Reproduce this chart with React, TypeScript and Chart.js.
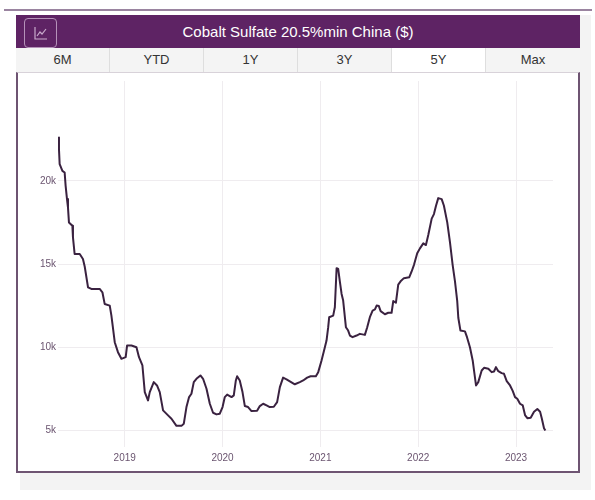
import React, { useEffect, useRef } from "react";
import { Chart, registerables } from "chart.js";

Chart.register(...registerables);

const TITLE = "Cobalt Sulfate 20.5%min China ($)";
const TABS = ["6M", "YTD", "1Y", "3Y", "5Y", "Max"];
const ACTIVE_TAB = "5Y";

// decimal years
const times = [
  2018.318, 2018.328, 2018.335, 2018.363, 2018.386, 2018.396, 2018.41, 2018.42, 2018.43, 2018.465,
  2018.471, 2018.488, 2018.54, 2018.573, 2018.591, 2018.625, 2018.659, 2018.744, 2018.772, 2018.795,
  2018.847, 2018.864, 2018.898, 2018.931, 2018.966, 2019.01, 2019.024, 2019.069, 2019.12, 2019.146,
  2019.181, 2019.205, 2019.238, 2019.256, 2019.297, 2019.33, 2019.358, 2019.392, 2019.443, 2019.478,
  2019.529, 2019.58, 2019.604, 2019.631, 2019.658, 2019.682, 2019.706, 2019.733, 2019.774, 2019.801,
  2019.836, 2019.87, 2019.903, 2019.938, 2019.972, 2020.0, 2020.023, 2020.047, 2020.092, 2020.115,
  2020.136, 2020.149, 2020.176, 2020.204, 2020.228, 2020.261, 2020.296, 2020.353, 2020.381, 2020.415,
  2020.45, 2020.483, 2020.524, 2020.558, 2020.586, 2020.619, 2020.654, 2020.688, 2020.739, 2020.79,
  2020.824, 2020.865, 2020.9, 2020.954, 2020.978, 2021.012, 2021.046, 2021.063, 2021.08, 2021.09,
  2021.131, 2021.148, 2021.166, 2021.182, 2021.199, 2021.217, 2021.233, 2021.261, 2021.284, 2021.302,
  2021.329, 2021.37, 2021.404, 2021.455, 2021.479, 2021.506, 2021.534, 2021.558, 2021.575, 2021.598,
  2021.616, 2021.66, 2021.694, 2021.728, 2021.745, 2021.772, 2021.796, 2021.82, 2021.854, 2021.908,
  2021.933, 2021.957, 2021.99, 2022.018, 2022.052, 2022.079, 2022.103, 2022.138, 2022.161, 2022.182,
  2022.205, 2022.24, 2022.263, 2022.297, 2022.325, 2022.352, 2022.376, 2022.399, 2022.41, 2022.432,
  2022.478, 2022.499, 2022.529, 2022.557, 2022.591, 2022.614, 2022.649, 2022.673, 2022.717, 2022.751,
  2022.775, 2022.795, 2022.819, 2022.853, 2022.877, 2022.905, 2022.939, 2022.966, 2022.99, 2023.013,
  2023.041, 2023.069, 2023.092, 2023.116, 2023.15, 2023.184, 2023.218, 2023.246, 2023.263, 2023.286,
  2023.3,
];

// USD per tonne
const prices = [
  22600, 21900, 21000, 20600, 20500, 19700, 18900, 18400, 17500, 17300,
  16600, 15600, 15600, 15300, 14850, 13600, 13500, 13500, 13300, 12600,
  12500, 11900, 10300, 9700, 9300, 9400, 10100, 10100, 10000, 9400,
  8900, 7300, 6800, 7300, 7900, 7700, 7300, 6200, 5900, 5700,
  5270, 5270, 5400, 6400, 7000, 7200, 7900, 8100, 8300, 8100,
  7500, 6600, 6060, 5960, 6000, 6400, 7000, 7150, 7000, 7100,
  8000, 8250, 8000, 7300, 6460, 6400, 6160, 6180, 6460, 6600,
  6500, 6400, 6420, 6700, 7600, 8170, 8070, 7950, 7770, 7900,
  8000, 8170, 8250, 8250, 8500, 9200, 10000, 10400, 11200, 11800,
  11900, 12400, 14750, 14700, 13960, 13200, 12800, 11200, 11000, 10700,
  10600, 10700, 10800, 10740, 11200, 11800, 12200, 12270, 12500, 12470,
  12170, 11980, 12070, 12070, 12770, 12670, 13760, 13960, 14150, 14200,
  14550, 14950, 15640, 15940, 16240, 16140, 16740, 17730, 18000, 18500,
  18960, 18900, 18500, 17500, 16300, 14950, 13960, 12770, 11770, 11000,
  10950, 10600, 10000, 9200, 7700, 7900, 8600, 8760, 8700, 8500,
  8540, 8800, 8560, 8440, 8400, 7960, 7700, 7370, 7000, 6900,
  6600, 6500, 5920, 5730, 5760, 6120, 6280, 6120, 5730, 5130,
  4990,
];

const xTicks = [2019, 2020, 2021, 2022, 2023];
const yTicks = [5000, 10000, 15000, 20000];
const X_MIN = 2018.318;
const X_MAX = 2023.378;
const Y_MIN = 4000;
const Y_MAX = 26000;

const FONT = '"Liberation Sans", Arial, Helvetica, sans-serif';
const PURPLE = "#5e2364";

function PriceChart() {
  const ref = useRef<HTMLCanvasElement | null>(null);
  useEffect(() => {
    if (!ref.current) return;
    const chart = new Chart(ref.current, {
      type: "line",
      data: {
        datasets: [
          {
            data: times.map((t, i) => ({ x: t, y: prices[i] })),
            borderColor: "#3a2240",
            borderWidth: 2,
            pointRadius: 0,
            tension: 0,
            borderJoinStyle: "round",
            fill: false,
          },
        ],
      },
      options: {
        animation: false,
        responsive: false,
        maintainAspectRatio: false,
        layout: { padding: { top: 5, right: 25, left: 0, bottom: 0 } },
        plugins: { legend: { display: false }, tooltip: { enabled: false }, title: { display: false } },
        scales: {
          x: {
            type: "linear",
            min: X_MIN,
            max: X_MAX,
            afterBuildTicks: (s: any) => {
              s.ticks = xTicks.map((v) => ({ value: v }));
            },
            afterFit: (s: any) => {
              s.height = 24;
            },
            grid: { color: "#efecef", drawTicks: false, lineWidth: 1 },
            border: { display: false },
            ticks: {
              padding: 5,
              color: "#6b5570",
              font: { family: FONT, size: 10 },
              callback: (v: any) => String(v),
              maxRotation: 0,
            },
          },
          y: {
            type: "linear",
            min: Y_MIN,
            max: Y_MAX,
            afterBuildTicks: (s: any) => {
              s.ticks = yTicks.map((v) => ({ value: v }));
            },
            afterFit: (s: any) => {
              s.width = 40;
            },
            grid: { color: "#efecef", drawTicks: false, lineWidth: 1 },
            border: { display: false },
            ticks: {
              padding: 2,
              color: "#6b5570",
              font: { family: FONT, size: 10 },
              callback: (v: any) => Number(v) / 1000 + "k",
            },
          },
        },
      },
    } as any);
    return () => chart.destroy();
  }, []);
  return (
    <canvas
      ref={ref}
      width={560}
      height={398}
      style={{ position: "absolute", left: 18, top: 73, width: 560, height: 398 }}
    />
  );
}

export default function App() {
  const tabW = 94;
  return (
    <div
      style={{
        position: "absolute",
        left: 0,
        top: 0,
        width: 595,
        height: 500,
        background: "#ffffff",
        overflow: "hidden",
        fontFamily: FONT,
      }}
    >
      <div style={{ position: "absolute", left: 4, top: 9, width: 588, height: 2, background: "#9a84a0" }} />
      <div style={{ position: "absolute", left: 20, top: 15, width: 571, height: 475, background: "#f3f3f3" }} />
      <div style={{ position: "absolute", left: 16, top: 15, width: 564, height: 33, background: PURPLE }}>
        <div
          style={{
            position: "absolute",
            left: 8,
            top: 3,
            width: 33,
            height: 30,
            boxSizing: "border-box",
            border: "1px solid #b592b9",
            borderRadius: 4,
          }}
        >
          <svg width={14} height={14} viewBox="0 0 14 14" style={{ position: "absolute", left: 9, top: 7 }}>
            <path d="M1 1 V13 H13" stroke="#c9abcc" strokeWidth={1.2} fill="none" />
            <path d="M3 10 L6 6 L8 8 L12 3" stroke="#c9abcc" strokeWidth={1.2} fill="none" />
          </svg>
        </div>
        <div
          style={{
            position: "absolute",
            left: 0,
            top: 0,
            width: 564,
            height: 33,
            lineHeight: "33px",
            textAlign: "center",
            color: "#ffffff",
            fontSize: 15,
          }}
        >
          {TITLE}
        </div>
      </div>
      {TABS.map((t, i) => (
        <div
          key={t}
          style={{
            position: "absolute",
            left: 16 + i * tabW,
            top: 48,
            width: tabW,
            height: 24,
            boxSizing: "border-box",
            background: t === ACTIVE_TAB ? "#ffffff" : "#f4f4f4",
            borderRight: i < TABS.length - 1 ? "1px solid #dedede" : "none",
            lineHeight: "24px",
            textAlign: "center",
            fontSize: 13,
            color: "#333333",
          }}
        >
          {t}
        </div>
      ))}
      <div
        style={{
          position: "absolute",
          left: 16,
          top: 72,
          width: 564,
          height: 401,
          boxSizing: "border-box",
          background: "#ffffff",
          borderLeft: "2px solid #6e5472",
          borderRight: "2px solid #6e5472",
          borderBottom: "2px solid #6e5472",
          borderTop: "1px solid #d8d2d9",
        }}
      />
      <PriceChart />
    </div>
  );
}
